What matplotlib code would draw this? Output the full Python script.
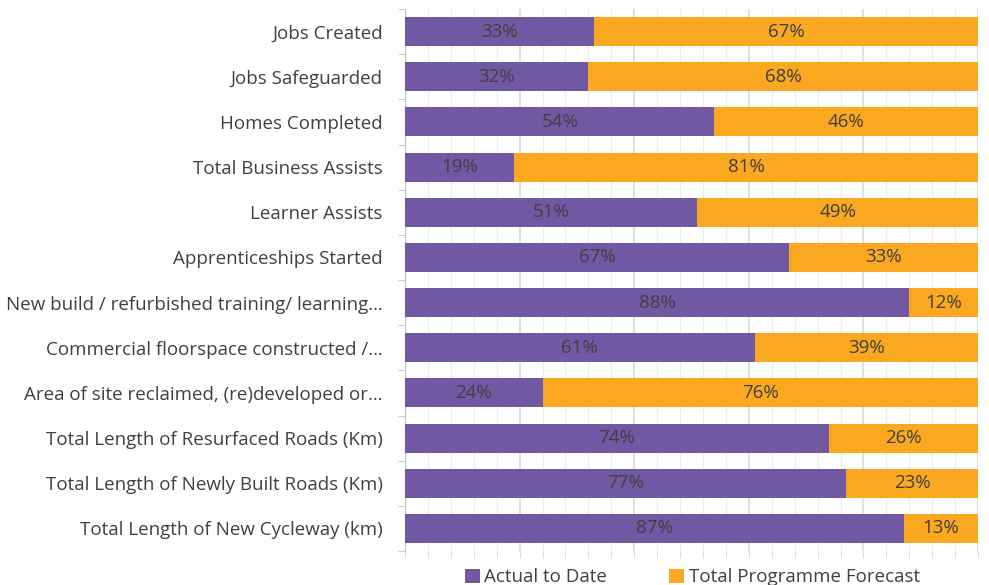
import numpy as np
import matplotlib.pyplot as plt
from matplotlib.ticker import MultipleLocator

categories = ["Jobs Created", "Jobs Safeguarded", "Homes Completed",
              "Total Business Assists", "Learner Assists", "Apprenticeships Started",
              "New build / refurbished training/ learning\u2026",
              "Commercial floorspace constructed /\u2026",
              "Area of site reclaimed, (re)developed or\u2026",
              "Total Length of Resurfaced Roads (Km)",
              "Total Length of Newly Built Roads (Km)",
              "Total Length of New Cycleway (km)"]
actual = [33, 32, 54, 19, 51, 67, 88, 61, 24, 74, 77, 87]
forecast = [67, 68, 46, 81, 49, 33, 12, 39, 76, 26, 23, 13]

purple = "#7058A3"
orange = "#F9A81F"
txt = "#404040"

plt.rcParams['font.family'] = ['Open Sans', 'DejaVu Sans']
fs = 13.5

fig = plt.figure(figsize=(9.89, 5.85), dpi=100)
ax = fig.add_axes([0.4095, 0.0581, 0.5795, 0.9265])

y = np.arange(len(categories))
a = np.array(actual)
f = np.array(forecast)
b1 = ax.barh(y, a, height=0.64, color=purple, label="Actual to Date", zorder=3)
b2 = ax.barh(y, f, left=a, height=0.64, color=orange, label="Total Programme Forecast", zorder=3)

# etiquetas en el centro de cada segmento
for i in range(len(categories)):
    ax.text(a[i] / 2, y[i], f"{actual[i]}%", ha="center", va="center", fontsize=fs, color=txt, zorder=4)
    ax.text(a[i] + f[i] / 2, y[i], f"{forecast[i]}%", ha="center", va="center", fontsize=fs, color=txt, zorder=4)

ax.set_xlim(0, 100)
ax.set_ylim(len(categories) - 0.5, -0.5)
ax.set_yticks(y)
ax.set_yticklabels(categories, fontsize=fs, color=txt)
ax.set_yticks(np.arange(len(categories) + 1) - 0.5, minor=True)
ax.tick_params(axis="y", which="major", length=0, pad=16)
ax.tick_params(axis="y", which="minor", length=5, color="#BFBFBF")

ax.xaxis.set_major_locator(MultipleLocator(20))
ax.xaxis.set_minor_locator(MultipleLocator(4))
ax.tick_params(axis="x", which="both", labelbottom=False, length=5, color="#D9D9D9")
ax.grid(axis="x", which="major", color="#D9D9D9", linewidth=1.2, zorder=0)
ax.grid(axis="x", which="minor", color="#EDEDED", linewidth=0.9, zorder=0)

for s in ["top", "right", "bottom"]:
    ax.spines[s].set_visible(False)
ax.spines["left"].set_color("#BFBFBF")

fig.legend(handles=[b1, b2], loc="lower center", bbox_to_anchor=(0.70, -0.031), ncol=2,
           frameon=False, fontsize=fs, handlelength=0.8, handleheight=0.8,
           handletextpad=0.25, columnspacing=3.3, labelcolor=txt)

fig.savefig("out.png", dpi=100)
